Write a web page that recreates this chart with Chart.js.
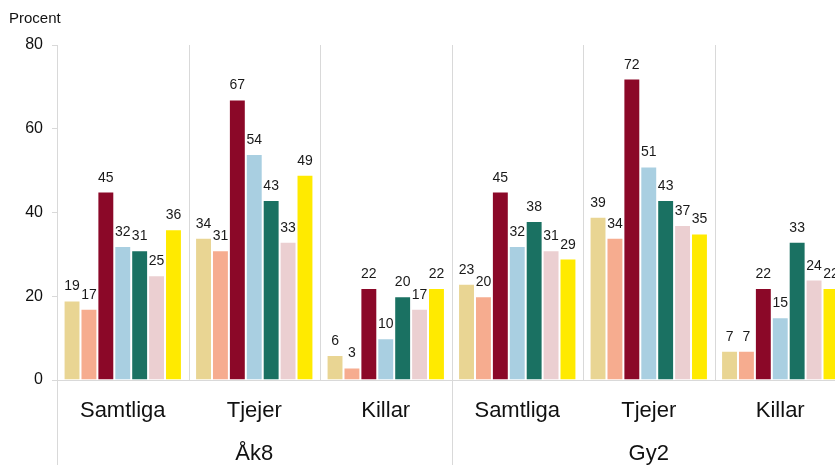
<!DOCTYPE html>
<html>
<head>
<meta charset="utf-8">
<script src="https://cdn.jsdelivr.net/npm/chart.js@4"></script>
<style>
  html, body { margin: 0; padding: 0; background: #fff; overflow: hidden; }
  #wrap { position: relative; width: 846px; height: 465px; }
</style>
</head>
<body>
<div id="wrap"><canvas id="chart"></canvas></div>
<script>
/* ---- データ ---- */
const categories = ["Samtliga", "Tjejer", "Killar", "Samtliga", "Tjejer", "Killar"];
const groups = ["Åk8", "Gy2"];
const yTicks = [0, 20, 40, 60, 80];

const series1 = [19, 34, 6, 23, 39, 7];
const series2 = [17, 31, 3, 20, 34, 7];
const series3 = [45, 67, 22, 45, 72, 22];
const series4 = [32, 54, 10, 32, 51, 15];
const series5 = [31, 43, 20, 38, 43, 33];
const series6 = [25, 33, 17, 31, 37, 24];
const series7 = [36, 49, 22, 29, 35, 22];

const seriesList = [series1, series2, series3, series4, series5, series6, series7];
const colors = ["#E9D593", "#F6AC8F", "#8B0828", "#A9CFE1", "#1A7162", "#EBCFD1", "#FFEA00"];

const FONT = "'Liberation Sans', Arial, sans-serif";
const LINE = "#d9d9d9";

/* ---- 区切り線・ラベル描画プラグイン ---- */
const decor = {
  id: "decor",
  afterDatasetsDraw(chart) {
    const ctx = chart.ctx;
    const area = chart.chartArea;
    const x = chart.scales.x;
    const H = chart.height;
    const step = (area.right - area.left) / categories.length;

    ctx.save();
    ctx.strokeStyle = LINE;
    ctx.lineWidth = 1;
    // 横の基準線
    ctx.beginPath();
    ctx.moveTo(area.left - 5, Math.round(area.bottom) + 0.5);
    ctx.lineTo(area.right, Math.round(area.bottom) + 0.5);
    ctx.stroke();
    // 縦の区切り線
    for (let i = 0; i < categories.length; i++) {
      const lx = Math.round(area.left + step * i) + 0.5;
      const long = i % 3 === 0;
      ctx.beginPath();
      ctx.moveTo(lx, area.top);
      ctx.lineTo(lx, long ? H : area.bottom);
      ctx.stroke();
    }

    // 値ラベル
    ctx.fillStyle = "#1a1a1a";
    ctx.font = "14px " + FONT;
    ctx.textAlign = "center";
    ctx.textBaseline = "alphabetic";
    chart.data.datasets.forEach((ds, di) => {
      const meta = chart.getDatasetMeta(di);
      meta.data.forEach((bar, i) => {
        ctx.fillText(String(ds.data[i]), bar.x, bar.y - 10);
      });
    });

    // カテゴリラベル
    ctx.fillStyle = "#111";
    ctx.font = "22px " + FONT;
    categories.forEach((c, i) => {
      ctx.fillText(c, x.getPixelForValue(i), 417);
    });
    // グループラベル
    groups.forEach((g, gi) => {
      const cx = area.left + step * (gi * 3 + 1.5);
      ctx.fillText(g, cx, 460);
    });

    // 軸タイトル
    ctx.font = "15px " + FONT;
    ctx.textAlign = "left";
    ctx.fillText("Procent", 9, 23);
    ctx.restore();
  }
};

/* ---- グラフ生成 ---- */
const ctx = document.getElementById("chart").getContext("2d");
new Chart(ctx, {
  type: "bar",
  data: {
    labels: categories,
    datasets: seriesList.map((s, i) => ({
      label: "Serie " + (i + 1),
      data: s,
      backgroundColor: colors[i],
      borderColor: "#ffffff",
      borderWidth: 1,
      barPercentage: 1,
      categoryPercentage: 0.9
    }))
  },
  options: {
    responsive: true,
    maintainAspectRatio: false,
    animation: false,
    layout: { padding: { top: 45, left: 0, right: 0, bottom: 0 } },
    plugins: {
      legend: { display: false },
      tooltip: { enabled: false }
    },
    scales: {
      x: {
        ticks: { display: false },
        grid: { display: false },
        border: { display: false },
        afterFit(scale) { scale.height = 85; }
      },
      y: {
        min: 0,
        max: 80,
        afterBuildTicks(scale) { scale.ticks = yTicks.map(v => ({ value: v })); },
        ticks: {
          color: "#111",
          font: { family: FONT, size: 16 },
          padding: 9
        },
        grid: { drawOnChartArea: false, tickLength: 5, color: LINE },
        border: { display: false },
        afterFit(scale) { scale.width = 57; }
      }
    }
  },
  plugins: [decor]
});
</script>
</body>
</html>
